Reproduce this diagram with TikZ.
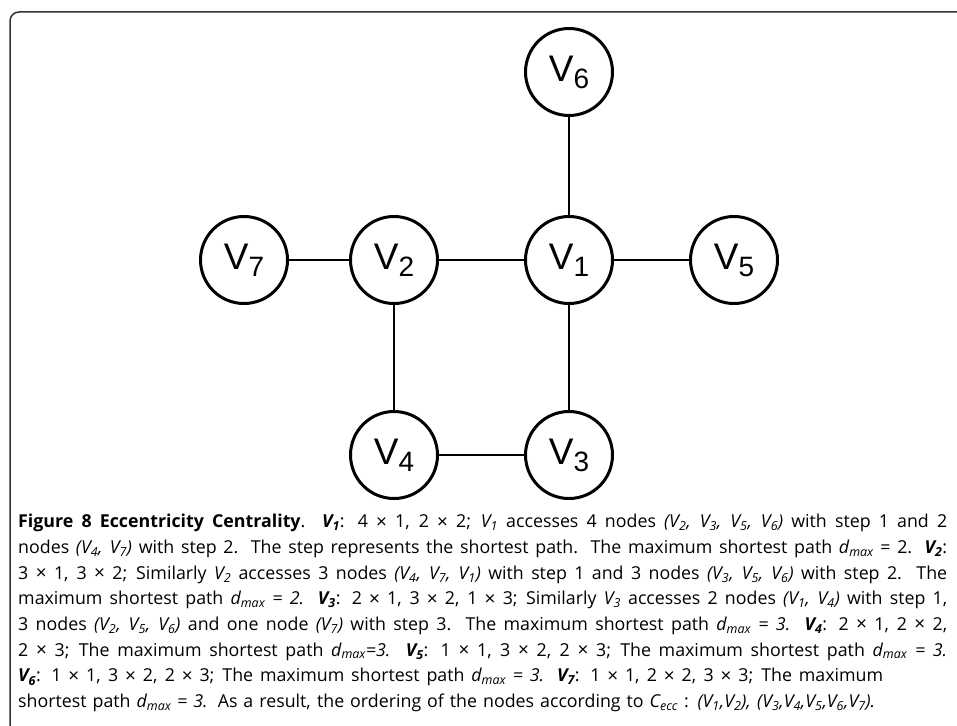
\documentclass[tikz,border=0pt]{standalone}
\usepackage{fontspec}
\setmainfont{Open Sans}
\newfontfamily\nodefont{Liberation Sans}
\hbadness=10000 \hfuzz=50pt
\newcommand\Vi[1]{\textit{V\textsubscript{#1}}}
\newcommand\Vb[1]{\textbf{\textit{V\textsubscript{#1}}}}
\newcommand\dmx{\textit{d\textsubscript{max}}}
\newcommand\tmglyph{\raisebox{-0.3pt}{\fontsize{19}{19}\selectfont ×}}
\newcommand\tm{\space\tmglyph\space}
\newcommand\VV[1]{V\raisebox{-7pt}{\fontsize{28}{28}\selectfont #1}}
\newcommand\capline[2][929pt]{\makebox[#1][s]{#2}}
\begin{document}
\begin{tikzpicture}[x=1pt,y=-1pt,
  vnode/.style={circle, draw, line width=3pt, minimum size=87pt, inner sep=0pt,
    font=\nodefont\fontsize{37}{37}\selectfont},
  edge/.style={line width=1.8pt},
  frame/.style={draw=black!80, line width=1.5pt, rounded corners=9pt},
  caption/.style={anchor=north west, inner sep=0pt, align=left,
    font=\fontsize{17.8}{25.7}\selectfont}]
\useasboundingbox (0,0) rectangle (957,725);
\draw[frame] (10,745) -- (10,12) -- (975,12);

\node[vnode] (v6) at (569,72) {\VV6};
\node[vnode] (v7) at (244,260) {\VV7};
\node[vnode] (v2) at (394,260) {\VV2};
\node[vnode] (v1) at (569,260) {\VV1};
\node[vnode] (v5) at (734,260) {\VV5};
\node[vnode] (v4) at (394,455) {\VV4};
\node[vnode] (v3) at (569,455) {\VV3};

\draw[edge] (v7) -- (v2);
\draw[edge] (v2) -- (v1);
\draw[edge] (v1) -- (v5);
\draw[edge] (v6) -- (v1);
\draw[edge] (v1) -- (v3);
\draw[edge] (v2) -- (v4);
\draw[edge] (v4) -- (v3);

\node[caption] (cap) at (18,514) {%
\capline{\textbf{Figure 8 Eccentricity Centrality}. \Vb1: 4\tm1, 2\tm2; \Vi1 accesses 4 nodes \textit{(V\textsubscript{2}, V\textsubscript{3}, V\textsubscript{5}, V\textsubscript{6})} with step 1 and 2}\\
\capline{nodes \textit{(V\textsubscript{4}, V\textsubscript{7})} with step 2. The step represents the shortest path. The maximum shortest path \dmx{} = 2. \Vb2:}\\
\capline{3\tm1, 3\tm2; Similarly \Vi2 accesses 3 nodes \textit{(V\textsubscript{4}, V\textsubscript{7}, V\textsubscript{1})} with step 1 and 3 nodes \textit{(V\textsubscript{3}, V\textsubscript{5}, V\textsubscript{6})} with step 2. The}\\
\capline{maximum shortest path \dmx{} \textit{= 2.} \Vb3: 2\tm1, 3\tm2, 1\tm3; Similarly \Vi3 accesses 2 nodes \textit{(V\textsubscript{1}, V\textsubscript{4})} with step 1,}\\
\capline{3 nodes \textit{(V\textsubscript{2}, V\textsubscript{5}, V\textsubscript{6})} and one node \textit{(V\textsubscript{7})} with step 3. The maximum shortest path \dmx{} \textit{= 3.} \Vb4: 2\tm1, 2\tm2,}\\
\capline{2\tm3; The maximum shortest path \dmx\textit{=3.} \Vb5: 1\tm1, 3\tm2, 2\tm3; The maximum shortest path \dmx{} \textit{= 3.}}\\
\capline[865pt]{\Vb6: 1\tm1, 3\tm2, 2\tm3; The maximum shortest path \dmx{} \textit{= 3.} \Vb7: 1\tm1, 2\tm2, 3\tm3; The maximum}\\
\capline[857pt]{shortest path \dmx{} \textit{= 3.} As a result, the ordering of the nodes according to \textit{C\textsubscript{ecc}} : \textit{(V\textsubscript{1},V\textsubscript{2}), (V\textsubscript{3},V\textsubscript{4},V\textsubscript{5},V\textsubscript{6},V\textsubscript{7}).}}};
\end{tikzpicture}
\end{document}
